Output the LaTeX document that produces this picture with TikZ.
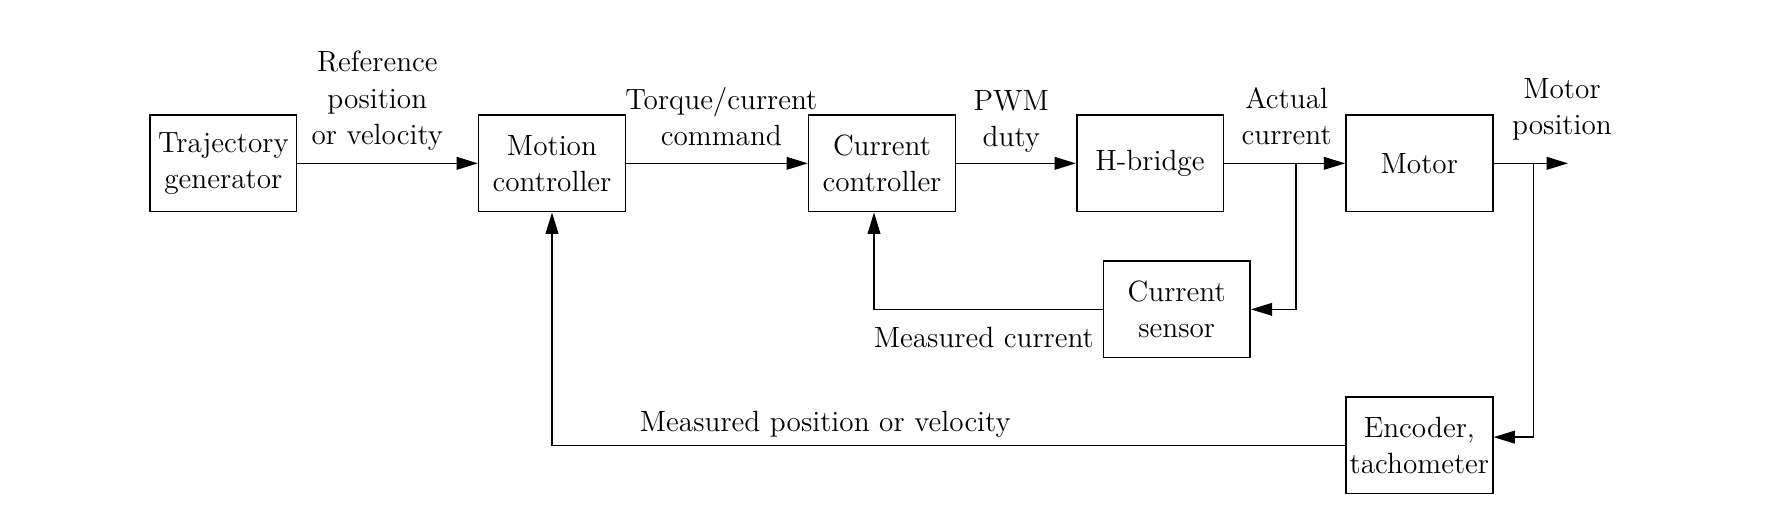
\documentclass[tikz,border=0pt]{standalone}
\usepackage{tikz}
\usetikzlibrary{arrows.meta}

\tikzset{
  block/.style={draw, line width=0.7pt, minimum width=2.2cm, minimum height=1.45cm,
    inner sep=1pt, align=center, font=\fontsize{12.5}{15.5}\selectfont},
  lbl/.style={align=center, inner sep=1pt, font=\fontsize{12.5}{15.5}\selectfont},
  >={Triangle[length=3.2mm, width=1.9mm]}
}

\begin{document}
\begin{tikzpicture}
\useasboundingbox (0, 0) rectangle (26.73, -7.875);
\node at (3.35, -2.45) (traj) [block] {Trajectory\\generator};
\node at (8.28, -2.45) (motion) [block] {Motion\\controller};
\node at (13.23, -2.45) (cc) [block] {Current\\controller};
\node at (17.25, -2.45) (hb) [block] {H-bridge};
\node at (21.29, -2.45) (motor) [block] {Motor};
\node at (17.65, -4.64) (sensor) [block] {Current\\sensor};
\node at (21.29, -6.68) (enc) [block] {Encoder,\\tachometer};
\coordinate (j1) at (19.44, -2.45);
\coordinate (j2) at (23.0, -2.45);
\coordinate (out) at (23.52, -2.45);
\node at (5.66, -2.3) (refl) [lbl, above] {Reference\\position\\or velocity};
\node at (10.82, -2.23) (cmdl) [lbl, above] {Torque/current\\command};
\node at (15.17, -2.33) (pwml) [lbl, above] {PWM\\duty};
\node at (19.3, -2.22) (actl) [lbl, above] {Actual\\current};
\node at (23.43, -2.15) (posl) [lbl, above] {Motor\\position};
\node at (16.45, -4.86) (mcl) [lbl, anchor=north east] {Measured current};
\node at (12.38, -6.6) (mpl) [lbl, above] {Measured position or velocity};
\begin{scope}[line width=0.7pt]
\draw[->] (traj) -- (motion);
\draw[->] (motion) -- (cc);
\draw[->] (cc) -- (hb);
\draw[->] (hb) -- (motor);
\draw[->] (motor) -- (out);
\draw[->] (j1) |- (sensor.east);
\draw[->] (sensor.west) -| ([xshift=-0.12cm]cc.south);
\draw[->] (j2) |- ([yshift=3.5pt]enc.east);
\draw[->] (enc.west) -| (motion.south);
\end{scope}
\end{tikzpicture}
\end{document}
